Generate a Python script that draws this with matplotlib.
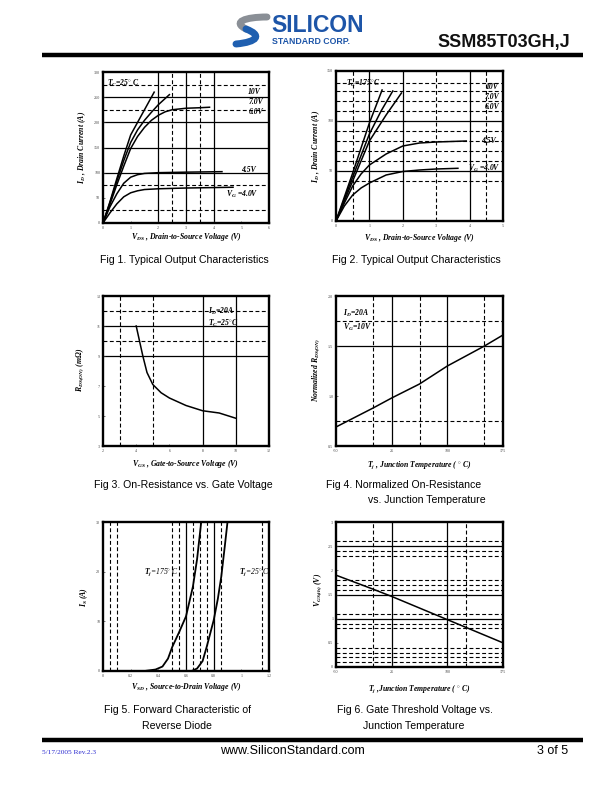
import matplotlib
matplotlib.use("Agg")
import matplotlib.pyplot as plt
from matplotlib.path import Path
from matplotlib.patches import PathPatch

plt.rcParams['font.family'] = ['Liberation Serif', 'DejaVu Serif']
plt.rcParams['mathtext.fontset'] = 'custom'
plt.rcParams['mathtext.rm'] = 'Liberation Serif:bold:italic'
plt.rcParams['mathtext.it'] = 'Liberation Serif:bold:italic'
plt.rcParams['mathtext.bf'] = 'Liberation Serif:bold:italic'

# ---------------- data ----------------
# Fig 1 (Tc = 25 C)
f1_vds_10 = [0, 0.25, 0.5, 0.75, 1.0, 1.25, 1.5, 1.85]
f1_id_10 = [0, 42, 88, 133, 175, 200, 225, 260]
f1_vds_7 = [0, 0.25, 0.5, 0.75, 1.0, 1.25, 1.5, 1.75, 2.0, 2.4]
f1_id_7 = [0, 40, 83, 124, 160, 185, 204, 220, 235, 255]
f1_vds_6 = [0, 0.25, 0.5, 0.75, 1.0, 1.25, 1.5, 1.75, 2.0, 2.25, 2.5, 3.0, 3.5, 3.85]
f1_id_6 = [0, 37, 76, 113, 148, 172, 190, 204, 214, 221, 225, 228, 229, 230]
f1_vds_45 = [0, 0.25, 0.5, 0.75, 1.0, 1.25, 1.5, 2.0, 3.0, 4.3]
f1_id_45 = [0, 32, 58, 79, 91, 96, 98.5, 100, 101, 102]
f1_vds_4 = [0, 0.25, 0.5, 0.75, 1.0, 1.25, 1.5, 2.0, 3.0, 4.7]
f1_id_4 = [0, 20, 38, 52, 60, 64, 66.5, 68, 69.5, 71]

# Fig 2 (Tc = 175 C)
f2_vds_10 = [0, 0.5, 1.0, 1.38]
f2_id_10 = [0, 48, 98, 131]
f2_vds_7 = [0, 0.5, 1.0, 1.35, 1.7]
f2_id_7 = [0, 44, 87, 110, 130]
f2_vds_6 = [0, 0.5, 1.0, 1.5, 1.96]
f2_id_6 = [0, 40, 80, 106, 128]
f2_vds_45 = [0, 0.25, 0.5, 0.75, 1.0, 1.5, 2.0, 2.5, 3.0, 3.9]
f2_id_45 = [0, 18, 35, 47, 56, 67, 75, 78, 79, 80]
f2_vds_4 = [0, 0.25, 0.5, 0.75, 1.0, 1.5, 2.0, 2.5, 3.0, 3.65]
f2_id_4 = [0, 15, 26, 33, 38, 46, 49.5, 51, 52, 52.7]

# Fig 3
f3_vgs = [4.0, 4.2, 4.4, 4.65, 5.0, 5.5, 6.0, 7.0, 8.0, 9.0, 10.0]
f3_rds = [11.0, 10.0, 9.0, 7.9, 7.1, 6.55, 6.2, 5.7, 5.35, 5.2, 4.85]

# Fig 4
f4_tj = [-50, 0, 25, 62.5, 100, 150, 175]
f4_norm = [0.69, 0.88, 0.98, 1.12, 1.30, 1.50, 1.61]

# Fig 5
f5_vsd_175 = [0.0, 0.30, 0.38, 0.43, 0.47, 0.50, 0.55, 0.60, 0.65, 0.68, 0.71]
f5_is_175 = [0.0, 0.0, 0.3, 0.9, 2.5, 4.8, 7.8, 11.0, 17.0, 22.5, 30.0]
f5_vsd_25 = [0.0, 0.64, 0.68, 0.72, 0.75, 0.80, 0.83, 0.855, 0.88, 0.90]
f5_is_25 = [0.0, 0.0, 0.5, 2.0, 4.9, 10.2, 14.5, 19.0, 25.0, 30.0]

# Fig 6
f6_tj = [-50, 0, 25, 62.5, 100, 125, 175]
f6_vth = [1.90, 1.61, 1.46, 1.22, 0.98, 0.82, 0.50]

# ---------------- figure ----------------
W, H = 612, 792
fig = plt.figure(figsize=(6.12, 7.92), dpi=100)
bg = fig.add_axes([0, 0, 1, 1])
bg.set_xlim(0, W)
bg.set_ylim(H, 0)
bg.axis('off')


def ax_at(l, t, r, b):
    return fig.add_axes([l / W, 1 - b / H, (r - l) / W, (b - t) / H])


def setup(ax, xlim, ylim, xt, yt, xtl, ytl, sx=(), dx=(), sy=(), dy=()):
    ax.set_xlim(*xlim)
    ax.set_ylim(*ylim)
    ax.set_xticks(xt)
    ax.set_yticks(yt)
    ax.set_xticklabels(xtl)
    ax.set_yticklabels(ytl)
    for v in sx:
        ax.axvline(v, color='k', lw=0.9, zorder=1)
    for v in dx:
        ax.axvline(v, color='k', lw=0.8, ls=(0, (3.5, 2.2)), zorder=1)
    for v in sy:
        ax.axhline(v, color='k', lw=0.9, zorder=1)
    for v in dy:
        ax.axhline(v, color='k', lw=0.8, ls=(0, (3.5, 2.2)), zorder=1)
    for s in ax.spines.values():
        s.set_linewidth(1.7)
    ax.tick_params(labelsize=3, length=1.5, width=0.5, direction='in', pad=2,
                   colors='#444444')


LK = dict(color='k', lw=1.1, zorder=3)
TF = dict(fontsize=5.5, fontweight='bold', fontstyle='italic', family='Liberation Serif')

# Fig 1
a1 = ax_at(103, 72, 269, 223)
setup(a1, (0, 6), (0, 300), range(0, 7), range(0, 301, 50),
      [str(v) for v in range(0, 7)], [str(v) for v in range(0, 301, 50)],
      sx=[2, 3, 4], dx=[2.5, 3.5], sy=[100, 150, 200, 250], dy=[25, 75, 225, 275])
a1.plot(f1_vds_10, f1_id_10, **LK)
a1.plot(f1_vds_7, f1_id_7, **LK)
a1.plot(f1_vds_6, f1_id_6, **LK)
a1.plot(f1_vds_45, f1_id_45, **LK)
a1.plot(f1_vds_4, f1_id_4, **LK)
a1.text(0.15, 277, r'$T_C$=25$^{\circ}$ C', va='center', **TF)
a1.text(5.25, 260, '10V', va='center', **TF)
a1.text(5.25, 240, '7.0V', va='center', **TF)
a1.text(5.25, 220, '6.0V', va='center', **TF)
a1.text(5.0, 105, '4.5V', va='center', **TF)
a1.text(4.45, 57, r'$V_G$ =4.0V', va='center', **TF)

# Fig 2
a2 = ax_at(336, 71, 503, 221)
setup(a2, (0, 5), (0, 150), range(0, 6), [0, 50, 100, 150],
      [str(v) for v in range(0, 6)], ['0', '50', '100', '150'],
      sx=[1, 2, 4], dx=[0.5, 3, 4.5], sy=[50, 100],
      dy=[40, 60, 70, 80, 90, 110, 120, 130, 138])
a2.plot(f2_vds_10, f2_id_10, **LK)
a2.plot(f2_vds_7, f2_id_7, **LK)
a2.plot(f2_vds_6, f2_id_6, **LK)
a2.plot(f2_vds_45, f2_id_45, **LK)
a2.plot(f2_vds_4, f2_id_4, **LK)
a2.text(0.3, 138, r'$T_C$=175$^{\circ}$C', va='center', **TF)
a2.text(4.5, 134, '10V', va='center', **TF)
a2.text(4.45, 124, '7.0V', va='center', **TF)
a2.text(4.45, 114, '6.0V', va='center', **TF)
a2.text(4.35, 80, '4.5V', va='center', **TF)
a2.text(3.95, 53, r'$V_G$ =4.0V', va='center', **TF)

# Fig 3
a3 = ax_at(103, 296, 269, 446)
setup(a3, (2, 12), (3, 13), range(2, 13, 2), range(3, 14, 2),
      [str(v) for v in range(2, 13, 2)], [str(v) for v in range(3, 14, 2)],
      sx=[8, 10], dx=[3, 5], sy=[9, 11], dy=[10, 12])
a3.plot(f3_vgs, f3_rds, **LK)
a3.text(8.3, 12.0, r'$I_D$=20A', va='center', **TF)
a3.text(8.3, 11.2, r'$T_C$=25$^{\circ}$C', va='center', **TF)

# Fig 4
a4 = ax_at(336, 296, 503, 446)
setup(a4, (-50, 175), (0.5, 2.0), [-50, 25, 100, 175], [0.5, 1.0, 1.5, 2.0],
      ['-50', '25', '100', '175'], ['0.5', '1.0', '1.5', '2.0'],
      sx=[25, 100], dx=[0, 62.5, 150], sy=[1.5], dy=[0.75, 1.75])
a4.plot(f4_tj, f4_norm, **LK)
a4.text(-40, 1.83, r'$I_D$=20A', va='center', **TF)
a4.text(-40, 1.69, r'$V_G$=10V', va='center', **TF)

# Fig 5
a5 = ax_at(103, 522, 269, 671)
setup(a5, (0, 1.2), (0, 30), [0, 0.2, 0.4, 0.6, 0.8, 1.0, 1.2], [0, 10, 20, 30],
      ['0', '0.2', '0.4', '0.6', '0.8', '1', '1.2'], ['0', '10', '20', '30'],
      sx=[0.6, 0.8], dx=[0.05, 0.1, 0.5, 0.55, 0.65, 0.7, 0.75, 0.855, 1.15])
a5.plot(f5_vsd_175, f5_is_175, color='k', lw=1.3, zorder=3)
a5.plot(f5_vsd_25, f5_is_25, color='k', lw=1.3, zorder=3)
a5.text(0.3, 20, r'$T_j$=175$^{\circ}$ C', va='center', fontsize=5.5,
        fontstyle='italic', family='Liberation Serif')
a5.text(0.98, 20, r'$T_j$=25$^{\circ}$ C', va='center', fontsize=5.5,
        fontstyle='italic', family='Liberation Serif')

# Fig 6
a6 = ax_at(336, 522, 503, 667)
setup(a6, (-50, 175), (0, 3), [-50, 25, 100, 175], [0, 0.5, 1, 1.5, 2, 2.5, 3],
      ['-50', '25', '100', '175'], ['0', '0.5', '1', '1.5', '2', '2.5', '3'],
      sx=[25, 100], dx=[0, 125], sy=[1.0, 1.5, 2.5],
      dy=[0.1, 0.2, 0.3, 0.4, 0.8, 0.9, 1.1, 1.6, 1.7, 1.8, 2.3, 2.4, 2.6])
a6.plot(f6_tj, f6_vth, **LK)

# ---------------- axis labels ----------------
LF = dict(fontsize=5.6, fontweight='bold', fontstyle='italic', family='Liberation Serif',
          ha='center', va='center')
bg.text(186, 237, r'$V_{DS}$ , Drain-to-Source Voltage (V)', **LF)
bg.text(419, 238, r'$V_{DS}$ , Drain-to-Source Voltage (V)', **LF)
bg.text(186, 464, r'$V_{GS}$ , Gate-to-Source Voltage (V)', **LF)
bg.text(419, 465, r'$T_j$ , Junction Temperature ( $^{\circ}$ C)', **LF)
bg.text(186, 687, r'$V_{SD}$ , Source-to-Drain Voltage (V)', **LF)
bg.text(419, 689, r'$T_j$ ,Junction Temperature ( $^{\circ}$ C)', **LF)

bg.text(82, 147, r'$I_D$ , Drain Current (A)', rotation=90, **LF)
bg.text(316, 146, r'$I_D$ , Drain Current (A)', rotation=90, **LF)
bg.text(80, 370, r'$R_{DS(ON)}$ (m$\Omega$)', rotation=90, **LF)
bg.text(316, 370, r'Normalized $R_{DS(ON)}$', rotation=90, **LF)
bg.text(84, 597, r'$I_S$ (A)', rotation=90, **LF)
bg.text(318, 590, r'$V_{GS(th)}$ (V)', rotation=90, **LF)

# ---------------- captions ----------------
CF = dict(fontsize=7.6, family='Liberation Sans', ha='center', va='center')
bg.text(184, 260, 'Fig 1. Typical Output Characteristics', **CF)
bg.text(416, 260, 'Fig 2. Typical Output Characteristics', **CF)
bg.text(183, 485, 'Fig 3. On-Resistance vs. Gate Voltage', **CF)
bg.text(404, 485, 'Fig 4. Normalized On-Resistance', **CF)
bg.text(427, 500, 'vs. Junction Temperature', **CF)
bg.text(177, 710, 'Fig 5. Forward Characteristic of', **CF)
bg.text(177, 726, 'Reverse Diode', **CF)
bg.text(415, 710, 'Fig 6. Gate Threshold Voltage vs.', **CF)
bg.text(414, 726, 'Junction Temperature', **CF)

# ---------------- header / footer ----------------
bg.plot([42, 583], [55, 55], color='k', lw=3.2, solid_capstyle='butt')
bg.plot([42, 583], [740, 740], color='k', lw=3.2, solid_capstyle='butt')

# logo swoosh
p1 = Path([(267, 17), (245, 17), (232, 22), (246, 29)],
          [Path.MOVETO, Path.CURVE4, Path.CURVE4, Path.CURVE4])
p2 = Path([(246, 29), (262, 35), (258, 42), (236, 44)],
          [Path.MOVETO, Path.CURVE4, Path.CURVE4, Path.CURVE4])
bg.add_patch(PathPatch(p1, fc='none', ec='#8a8f96', lw=5, capstyle='round'))
bg.add_patch(PathPatch(p2, fc='none', ec='#1f5fb0', lw=5, capstyle='round'))
bg.text(271, 31.5, 'SILICON', fontsize=16.5, fontweight='bold', family='Liberation Sans',
        color='#1d55a8', va='baseline', ha='left')
bg.text(272, 44.5, 'STANDARD CORP.', fontsize=6.3, fontweight='bold', family='Liberation Sans',
        color='#1d55a8', va='baseline', ha='left')
bg.text(570, 47.5, 'SSM85T03GH,J', fontsize=13, fontweight='bold', family='Liberation Sans',
        color='#111111', va='baseline', ha='right')

bg.text(42, 752, '5/17/2005 Rev.2.3', fontsize=5.3, family='Liberation Serif',
        color='#2a2ad0', va='center', ha='left')
bg.text(292, 751, 'www.SiliconStandard.com', fontsize=9, family='Liberation Sans',
        color='k', va='center', ha='center')
bg.text(568, 751, '3 of 5', fontsize=9, family='Liberation Sans',
        color='k', va='center', ha='right')

fig.savefig('out.png', dpi=100)
